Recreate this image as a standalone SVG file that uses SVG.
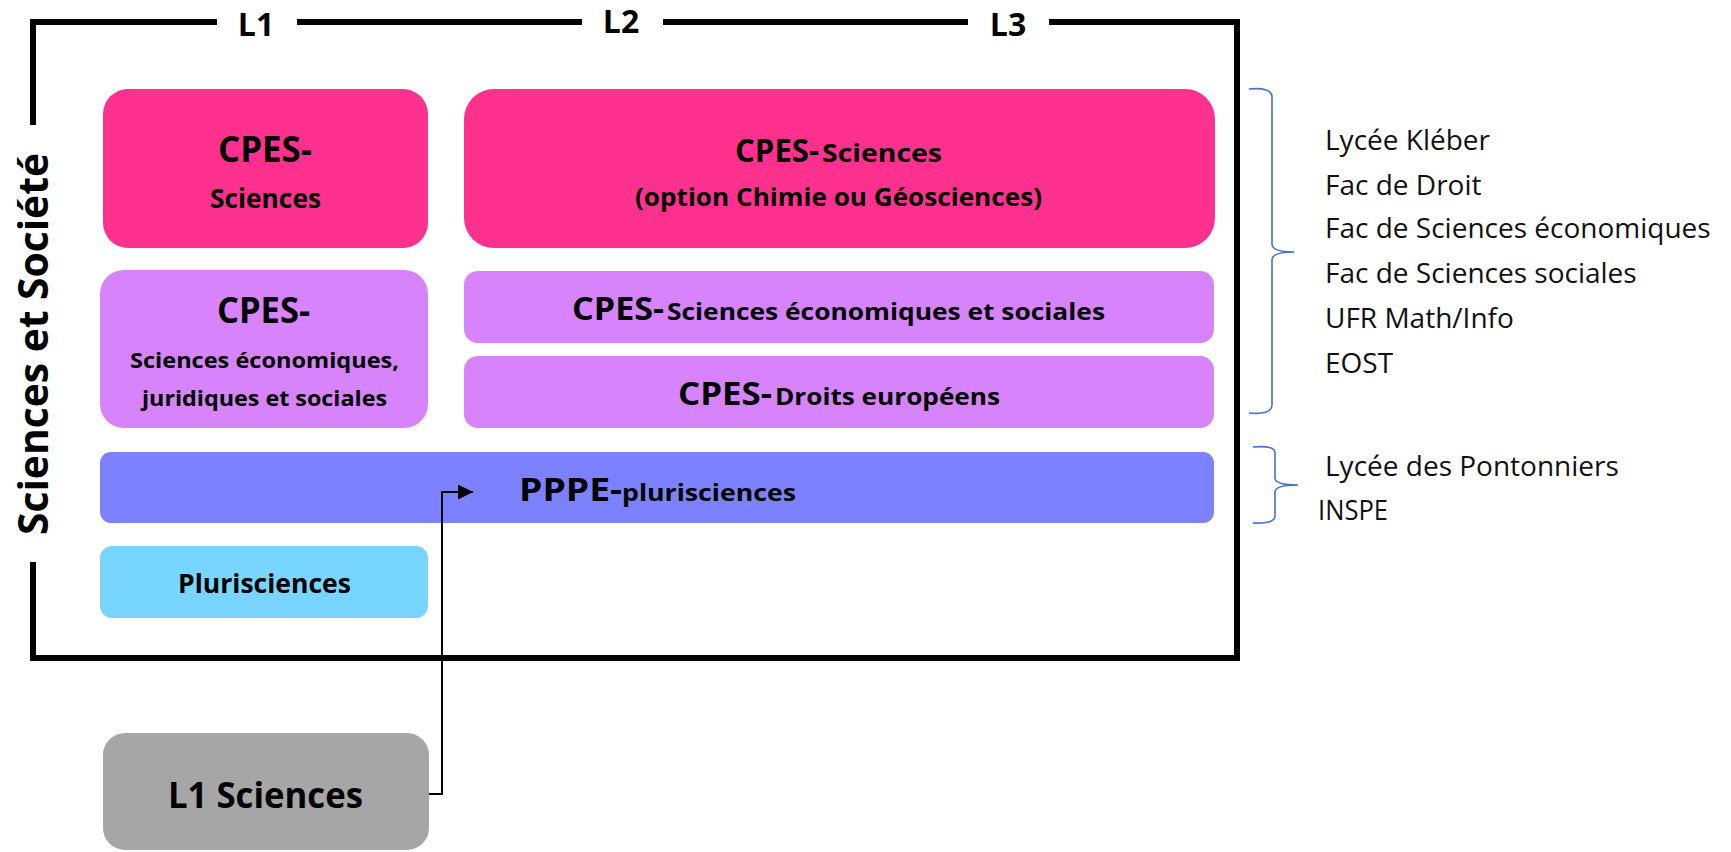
<svg xmlns="http://www.w3.org/2000/svg" width="1731" height="852" viewBox="0 0 1731 852">
<style>
.h{font-family:"Open Sans","Liberation Sans",sans-serif;font-weight:700;fill:#000}
.r{font-family:"Open Sans","Liberation Sans",sans-serif;font-weight:400;fill:#111;font-size:28px}
.frame{fill:none;stroke:#000;stroke-width:6}
.brace{fill:none;stroke:#4472C4;stroke-width:1.6}
.pink{fill:#FF318F}
.purple{fill:#D683FC}
.blue{fill:#7B81FF}
.cyan{fill:#77D5FF}
.grey{fill:#A6A6A6}
</style>
<defs>
<marker id="arr" markerUnits="userSpaceOnUse" markerWidth="16" markerHeight="16" refX="15" refY="7.5" orient="auto">
<path d="M0,0 L15,7.5 L0,15 z" fill="#000"/>
</marker>
</defs>
<rect width="1731" height="852" fill="#fff"/>

<g id="frame">
<path class="frame" d="M217,22 H33 V125 M33,562 V658 H1237 V22 H1049 M297,22 H582 M663,22 H968"/>
<text class="h" x="256" y="36" font-size="32" text-anchor="middle">L1</text>
<text class="h" x="621" y="33" font-size="32" text-anchor="middle">L2</text>
<text class="h" x="1008" y="36" font-size="32" text-anchor="middle">L3</text>
<text class="h" font-size="42" text-anchor="middle" textLength="382" lengthAdjust="spacingAndGlyphs" transform="translate(48,344) rotate(-90)">Sciences et Société</text>
</g>

<g id="cpes-sciences-l1">
<rect class="pink" x="103" y="89" width="325" height="159" rx="25"/>
<text class="h" x="218" y="162" font-size="35" textLength="94" lengthAdjust="spacingAndGlyphs">CPES-</text>
<text class="h" x="210" y="208" font-size="26" textLength="111" lengthAdjust="spacingAndGlyphs">Sciences</text>
</g>

<g id="cpes-sciences-l23">
<rect class="pink" x="464" y="89" width="751" height="159" rx="30"/>
<text class="h" x="735" y="162" font-size="33" textLength="84" lengthAdjust="spacingAndGlyphs">CPES-</text>
<text class="h" x="822" y="162" font-size="25" textLength="120" lengthAdjust="spacingAndGlyphs">Sciences</text>
<text class="h" x="635" y="206" font-size="25" textLength="407" lengthAdjust="spacingAndGlyphs">(option Chimie ou Géosciences)</text>
</g>

<g id="cpes-sejs">
<rect class="purple" x="100" y="270" width="328" height="158" rx="24"/>
<text class="h" x="217" y="323" font-size="35" textLength="93" lengthAdjust="spacingAndGlyphs">CPES-</text>
<text class="h" x="130" y="368" font-size="22" textLength="269" lengthAdjust="spacingAndGlyphs">Sciences économiques,</text>
<text class="h" x="142" y="406" font-size="22" textLength="245" lengthAdjust="spacingAndGlyphs">juridiques et sociales</text>
</g>

<g id="cpes-ses">
<rect class="purple" x="464" y="271" width="750" height="72" rx="14"/>
<text class="h" x="572" y="320" font-size="33" textLength="92" lengthAdjust="spacingAndGlyphs">CPES-</text>
<text class="h" x="667" y="320" font-size="24" textLength="438" lengthAdjust="spacingAndGlyphs">Sciences économiques et sociales</text>
</g>

<g id="cpes-droits">
<rect class="purple" x="464" y="356" width="750" height="72" rx="14"/>
<text class="h" x="678" y="405" font-size="33" textLength="94" lengthAdjust="spacingAndGlyphs">CPES-</text>
<text class="h" x="775" y="405" font-size="24" textLength="225" lengthAdjust="spacingAndGlyphs">Droits européens</text>
</g>

<g id="pppe">
<rect class="blue" x="100" y="452" width="1114" height="71" rx="11"/>
<text class="h" x="519" y="501" font-size="33" textLength="103" lengthAdjust="spacingAndGlyphs">PPPE-</text>
<text class="h" x="622" y="501" font-size="24" textLength="174" lengthAdjust="spacingAndGlyphs">plurisciences</text>
</g>

<g id="plurisciences">
<rect class="cyan" x="100" y="546" width="328" height="72" rx="12"/>
<text class="h" x="178" y="593" font-size="27" textLength="173" lengthAdjust="spacingAndGlyphs">Plurisciences</text>
</g>

<g id="l1-sciences">
<rect class="grey" x="103" y="733" width="326" height="117" rx="22"/>
<text class="h" x="168" y="808" font-size="35" textLength="195" lengthAdjust="spacingAndGlyphs">L1 Sciences</text>
</g>

<g id="connectors">
<path d="M429,794 H442 V492 H473" fill="none" stroke="#000" stroke-width="2" marker-end="url(#arr)"/>
</g>

<g id="etablissements">
<path class="brace" d="M1249,89 Q1272,87 1272,97 V244 Q1272,252 1294,252 Q1272,252 1272,260 V405 Q1272,415 1249,413"/>
<path class="brace" d="M1253,447 Q1275,445 1275,453 V478 Q1275,485 1298,485 Q1275,485 1275,492 V516 Q1275,524 1253,523"/>
<text class="r" x="1325" y="150">Lycée Kléber</text>
<text class="r" x="1325" y="195">Fac de Droit</text>
<text class="r" x="1325" y="238">Fac de Sciences économiques</text>
<text class="r" x="1325" y="283">Fac de Sciences sociales</text>
<text class="r" x="1325" y="328">UFR Math/Info</text>
<text class="r" x="1325" y="373">EOST</text>
<text class="r" x="1325" y="476">Lycée des Pontonniers</text>
<text class="r" x="1318" y="520" textLength="70" lengthAdjust="spacingAndGlyphs">INSPE</text>
</g>
</svg>
